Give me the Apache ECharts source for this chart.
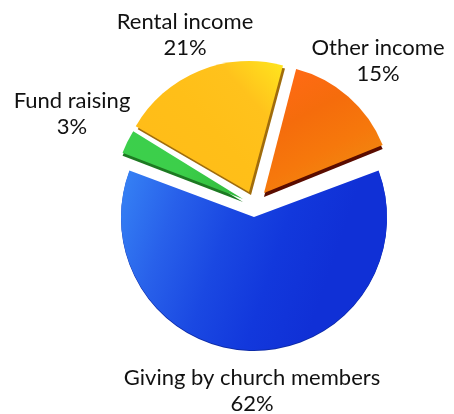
<!DOCTYPE html>
<html><head><meta charset="utf-8">
<style>html,body{margin:0;padding:0;background:#fff}#c{width:454px;height:414px}</style>
<script src="https://cdn.jsdelivr.net/npm/echarts@6/dist/echarts.min.js"></script>
</head><body><div id="c"></div>
<script>
const categories = ['Giving by church members','Fund raising','Rental income','Other income'];
const shares = [62,3,21,15];

const g = (x,y,x2,y2,stops)=>new echarts.graphic.LinearGradient(x,y,x2,y2,stops.map((c,i)=>({offset:i/(stops.length-1),color:c})));
const looks = [
 {center:[254,217], radius:133, start:20.5, edge:[0,1], edgeColor:'#0c2aa8', labelAt:[252,391],
  fill:()=>g(0,0.1,0.8,0.5,['#3580f4','#2860ea','#1a48e2','#1238dc','#1030d6'])},
 {center:[243,199], radius:129, start:20, edge:[0,3], edgeColor:'#1d7a22', labelAt:[72,114],
  fill:()=>g(0,0,1,1,['#3ccf4c','#3ccf4a','#30b83a'])},
 {center:[249,192], radius:131, start:21.5, edge:[2,3], edgeColor:'#a06c0c', labelAt:[185,35],
  fill:()=>g(1,0,0,1,['#ffe61e','#ffc21c','#ffbf18','#ffbd18','#fdb614'])},
 {center:[264,193], radius:128, start:22, edge:[0,4], edgeColor:'#5a0c00', labelAt:[378,61],
  fill:()=>g(0.3,0,0.8,0.9,['#ff6a14','#f56c0c','#f6780c','#f08a10'])}
];

const pieLayer = (i,center,color,withLabel)=>({
  type:'pie', silent:true, clockwise:true, startAngle:looks[i].start, animation:false,
  center, radius:[0,looks[i].radius], avoidLabelOverlap:false,
  label:{show:false}, labelLine:{show:false}, emphasis:{disabled:true},
  labelLayout: withLabel ? {x:looks[i].labelAt[0], y:looks[i].labelAt[1], align:'center', verticalAlign:'middle'} : undefined,
  data:shares.map((v,j)=>({
    name:categories[j], value:v,
    itemStyle:{color:j===i?color:'transparent', borderWidth:0},
    label:{show:withLabel&&j===i, formatter:'{b}\n{c}%', color:'#111',
      fontFamily:'Lato', fontSize:22, lineHeight:26, align:'center'}
  }))
});

const series=[];
looks.forEach((l,i)=>{
  series.push(pieLayer(i,[l.center[0]+l.edge[0],l.center[1]+l.edge[1]],l.edgeColor,false));
  series.push(pieLayer(i,l.center,l.fill(),true));
});
const chart=echarts.init(document.getElementById('c'));
chart.setOption({backgroundColor:'#fff',animation:false,series});
</script></body></html>
